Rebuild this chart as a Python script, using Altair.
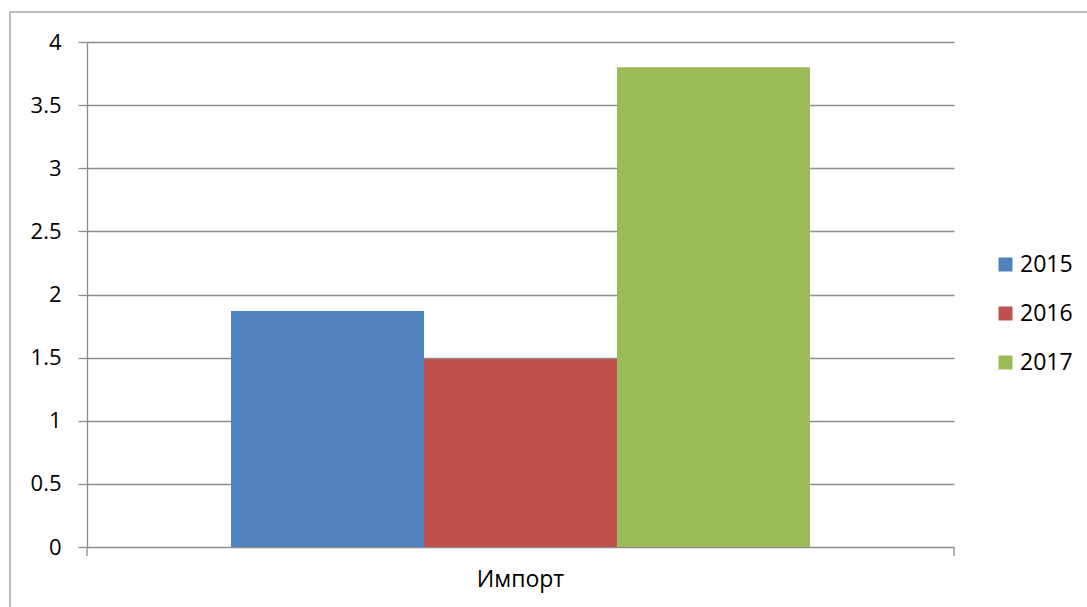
import altair as alt
import pandas as pd

# Import volume by year
category = ["Импорт"]
years = ["2015", "2016", "2017"]
values = [1.87, 1.49, 3.80]
colors = ["#4f81bd", "#c0504d", "#9bbb59"]
y_ticks = [0, 0.5, 1, 1.5, 2, 2.5, 3, 3.5, 4]

W, H = 867, 505
GRAY = "#8c8c8c"
FONT = "Open Sans"

df = pd.DataFrame({"cat": category * len(years), "year": years, "value": values})
one = pd.DataFrame({"k": [0]})

bars = alt.Chart(df).mark_bar().encode(
    x=alt.X(
        "cat:N",
        title=None,
        scale=alt.Scale(paddingInner=0, paddingOuter=0.2487),
        axis=alt.Axis(
            ticks=False, domain=False, labelAngle=0, labelFontSize=23,
            labelFont=FONT, labelColor="#000000", labelPadding=21,
        ),
    ),
    xOffset=alt.XOffset("year:N", scale=alt.Scale(paddingInner=0, paddingOuter=0)),
    y=alt.Y(
        "value:Q",
        title=None,
        scale=alt.Scale(domain=[0, 4], nice=False),
        axis=alt.Axis(
            values=y_ticks, grid=True, gridColor=GRAY, gridWidth=1.3,
            domainColor=GRAY, domainWidth=1.3, tickColor=GRAY, tickWidth=1.3,
            tickSize=9, labelPadding=17, labelFontSize=22, labelFont=FONT,
            labelColor="#000000", labelExpr="'' + datum.value",
        ),
    ),
    color=alt.Color(
        "year:N",
        title=None,
        scale=alt.Scale(domain=years, range=colors),
        legend=alt.Legend(
            orient="none", legendX=907, legendY=211, symbolType="square",
            symbolSize=196, symbolStrokeWidth=0, symbolOpacity=1,
            labelFontSize=23, labelFont=FONT, labelColor="#000000",
            labelOffset=3, rowPadding=25, padding=0,
        ),
    ),
)

# category-boundary ticks under the baseline
tick_left = alt.Chart(one).mark_rule(color=GRAY, strokeWidth=1.3).encode(
    x=alt.value(0), y=alt.value(H), y2=alt.value(H + 9)
)
tick_right = alt.Chart(one).mark_rule(color=GRAY, strokeWidth=1.3).encode(
    x=alt.value(W), y=alt.value(H), y2=alt.value(H + 9)
)

# outer chart frame
frame = alt.Chart(one).mark_rect(
    fill=None, stroke="#a6a6a6", strokeWidth=1.5
).encode(
    x=alt.value(-77), x2=alt.value(1100), y=alt.value(-30), y2=alt.value(620)
)

chart = (
    alt.layer(frame, bars, tick_left, tick_right)
    .properties(
        width=W,
        height=H,
        autosize=alt.AutoSizeParams(type="none"),
        padding={"left": 87, "top": 42, "right": 133, "bottom": 60},
        background="white",
    )
    .configure_view(stroke=None)
)

chart.save("out.html", embed_options={"renderer": "svg", "actions": False})
